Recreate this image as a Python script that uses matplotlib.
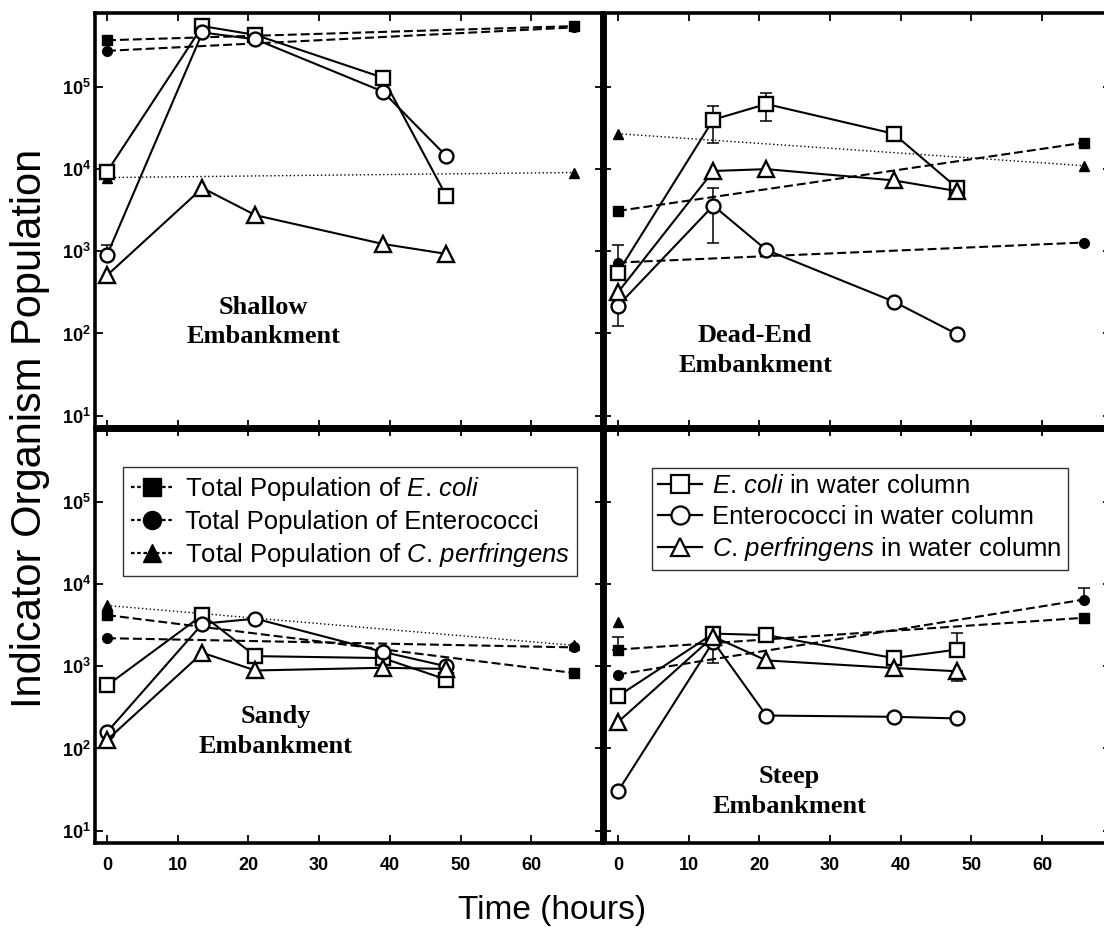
import matplotlib
matplotlib.use("Agg")
import matplotlib.pyplot as plt
from matplotlib import font_manager as fm
from matplotlib.lines import Line2D

# ---------------- data ----------------
t_water = [0, 13.5, 21, 39, 48]
t_total = [0, 66]

# Shallow embankment
sh_ecoli_w = [9.3e3, 5.5e5, 4.3e5, 1.3e5, 4.7e3]
sh_entero_w = [900, 4.6e5, 3.8e5, 8.8e4, 1.44e4]
sh_cperf_w = [510, 5.9e3, 2.75e3, 1.23e3, 930]
sh_ecoli_t = [3.7e5, 5.5e5]
sh_entero_t = [2.75e5, 5.3e5]
sh_cperf_t = [7.9e3, 9.1e3]

# Dead-End embankment
de_ecoli_w = [550, 4.0e4, 6.2e4, 2.7e4, 5.9e3]
de_entero_w = [217, 3.6e3, 1.04e3, 245, 98]
de_cperf_w = [316, 9.5e3, 1.0e4, 7.3e3, 5.4e3]
de_ecoli_t = [3.1e3, 2.1e4]
de_entero_t = [730, 1.28e3]
de_cperf_t = [2.7e4, 1.1e4]

# Sandy embankment
sa_ecoli_w = [585, 4.2e3, 1.33e3, 1.26e3, 690]
sa_entero_w = [158, 3.3e3, 3.8e3, 1.5e3, 1.0e3]
sa_cperf_w = [127, 1.46e3, 890, 960, 930]
sa_ecoli_t = [4.2e3, 830]
sa_entero_t = [2.2e3, 1.7e3]
sa_cperf_t = [5.5e3, 1.8e3]

# Steep embankment
st_ecoli_w = [432, 2.5e3, 2.4e3, 1.26e3, 1.6e3]
st_entero_w = [30, 2.0e3, 252, 243, 232]
st_cperf_w = [209, 2.3e3, 1.18e3, 955, 870]
st_ecoli_t = [1.6e3, 3.9e3]
st_entero_t = [795, 6.5e3]
st_cperf_t = [3.5e3]
st_cperf_t_time = [0]

# error bars: (panel, time, value, lower, upper)
err_bars = [
    ("shallow", 0, 900, 900, 1.2e3),
    ("deadend", 0, 550, 550, 1.2e3),
    ("deadend", 13.5, 4.0e4, 2.07e4, 5.9e4),
    ("deadend", 21, 6.2e4, 3.9e4, 8.4e4),
    ("deadend", 0, 217, 124, 217),
    ("deadend", 13.5, 3.6e3, 1.28e3, 5.9e3),
    ("steep", 48, 1.6e3, 1.6e3, 2.57e3),
    ("steep", 13.5, 2.0e3, 1.1e3, 2.0e3),
    ("steep", 48, 870, 660, 870),
    ("steep", 0, 1.6e3, 1.6e3, 2.3e3),
    ("steep", 66, 6.5e3, 6.5e3, 8.9e3),
]

panel_titles = {
    "shallow": ("Shallow\nEmbankment", 22.1, 10 ** 2.14),
    "deadend": ("Dead-End\nEmbankment", 19.4, 10 ** 1.79),
    "sandy": ("Sandy\nEmbankment", 23.9, 10 ** 2.21),
    "steep": ("Steep\nEmbankment", 24.3, 10 ** 1.48),
}

x_ticks = [0, 10, 20, 30, 40, 50, 60]
y_ticks = [1e1, 1e2, 1e3, 1e4, 1e5]
y_tick_labels = [r"$\mathbf{10^{1}}$", r"$\mathbf{10^{2}}$", r"$\mathbf{10^{3}}$",
                 r"$\mathbf{10^{4}}$", r"$\mathbf{10^{5}}$"]

# ---------------- fonts ----------------
def has_font(name):
    try:
        fm.findfont(fm.FontProperties(family=name), fallback_to_default=False)
        return True
    except Exception:
        return False

narrow = "Liberation Sans Narrow" if has_font("Liberation Sans Narrow") else "Liberation Sans"
plt.rcParams["font.family"] = ["Liberation Sans", "DejaVu Sans"]
plt.rcParams["mathtext.fontset"] = "custom"
plt.rcParams["mathtext.rm"] = "Liberation Sans"
plt.rcParams["mathtext.bf"] = narrow + ":bold"
plt.rcParams["mathtext.it"] = "Liberation Sans:italic"

# ---------------- figure ----------------
W, H = 1104, 931
fig = plt.figure(figsize=(W / 100, H / 100), dpi=100)

def px_axes(x0, y0, x1, y1):
    return fig.add_axes([x0 / W, 1 - y1 / H, (x1 - x0) / W, (y1 - y0) / H])

ax_tl = px_axes(95, 13, 603, 428)
ax_tr = px_axes(603, 13, 1111, 428)
ax_bl = px_axes(95, 428, 603, 843)
ax_br = px_axes(603, 428, 1111, 843)

dash = (0, (4.3, 1.9))
dot = (0, (1, 1.8))


def draw(ax, key, ecoli_w, entero_w, cperf_w, ecoli_t, entero_t, cperf_t, cperf_t_time=t_total):
    ax.set_yscale("log")
    ax.plot(t_total, ecoli_t, linestyle=dash, color="k", lw=1.5, marker="s", ms=7,
            mfc="k", mec="k", zorder=2)
    ax.plot(t_total, entero_t, linestyle=dash, color="k", lw=1.5, marker="o", ms=7,
            mfc="k", mec="k", zorder=2)
    ax.plot(cperf_t_time, cperf_t, linestyle=dot, color="k", lw=1.0, marker="^", ms=7,
            mfc="k", mec="k", zorder=2)
    for tt, val, lo, hi in [(e[1], e[2], e[3], e[4]) for e in err_bars if e[0] == key]:
        ax.errorbar([tt], [val], yerr=[[val - lo], [hi - val]], fmt="none", ecolor="k",
                    elinewidth=1.1, capsize=4.5, capthick=1.1, zorder=1.5)
    ax.plot(t_water, ecoli_w, "-", color="k", lw=1.5, marker="s", ms=10.5, mfc="white",
            mec="k", mew=1.7, zorder=4)
    ax.plot(t_water, entero_w, "-", color="k", lw=1.5, marker="o", ms=10, mfc="white",
            mec="k", mew=1.7, zorder=4)
    ax.plot(t_water, cperf_w, "-", color="k", lw=1.5, marker="^", ms=11, mfc="white",
            mec="k", mew=1.7, zorder=4)
    title, tx, ty = panel_titles[key]
    ax.text(tx, ty, title, ha="center", va="center", family="Liberation Serif",
            weight="bold", fontsize=19, linespacing=1.38)


draw(ax_tl, "shallow", sh_ecoli_w, sh_entero_w, sh_cperf_w, sh_ecoli_t, sh_entero_t, sh_cperf_t)
draw(ax_tr, "deadend", de_ecoli_w, de_entero_w, de_cperf_w, de_ecoli_t, de_entero_t, de_cperf_t)
draw(ax_bl, "sandy", sa_ecoli_w, sa_entero_w, sa_cperf_w, sa_ecoli_t, sa_entero_t, sa_cperf_t)
draw(ax_br, "steep", st_ecoli_w, st_entero_w, st_cperf_w, st_ecoli_t, st_entero_t, st_cperf_t,
     st_cperf_t_time)

for ax, left in [(ax_tl, True), (ax_bl, True), (ax_tr, False), (ax_br, False)]:
    if left:
        ax.set_xlim(-1.7, 70.15)
    else:
        ax.set_xlim(-2.1, 69.75)
    ax.set_ylim(10 ** 0.85, 10 ** 5.9)
    ax.set_xticks(x_ticks)
    ax.set_yticks(y_ticks)
    ax.minorticks_off()
    ax.tick_params(which="both", direction="in", top=True, right=True, length=6, width=1.3)
    for s in ax.spines.values():
        s.set_linewidth(2.6)
    if left:
        ax.set_yticklabels(y_tick_labels, fontsize=13)
        ax.tick_params(axis="y", pad=3)
    else:
        ax.set_yticklabels([])

for ax in (ax_tl, ax_tr):
    ax.set_xticklabels([])
for ax in (ax_bl, ax_br):
    ax.set_xticklabels([str(v) for v in x_ticks], family=narrow, weight="bold", fontsize=13)
    ax.tick_params(axis="x", pad=10)

# dividers
fig.add_artist(Line2D([95 / W, 1.0], [1 - 428 / H, 1 - 428 / H], color="k", lw=5,
                      transform=fig.transFigure, solid_capstyle="butt"))
fig.add_artist(Line2D([603 / W, 603 / W], [1 - 13 / H, 1 - 843 / H], color="k", lw=5,
                      transform=fig.transFigure, solid_capstyle="butt"))

# legends
tot_handles = [
    Line2D([], [], linestyle=(0, (1.6, 1.2)), color="k", lw=1.6, marker="s", ms=13, mfc="k", mec="k"),
    Line2D([], [], linestyle=(0, (1.6, 1.2)), color="k", lw=1.6, marker="o", ms=13, mfc="k", mec="k"),
    Line2D([], [], linestyle=(0, (1.6, 1.2)), color="k", lw=1.6, marker="^", ms=13, mfc="k", mec="k"),
]
tot_labels = [r"Total Population of $\mathit{E}$. $\mathit{coli}$",
              "Total Population of Enterococci",
              r"Total Population of $\mathit{C}$. $\mathit{perfringens}$"]
leg1 = ax_bl.legend(tot_handles, tot_labels, loc="upper left", bbox_to_anchor=(0.055, 0.906),
                    borderaxespad=0, fontsize=18.5, frameon=True, fancybox=False, edgecolor="k",
                    handlelength=1.7, handletextpad=0.4, labelspacing=0.27, borderpad=0.3)
leg1.get_frame().set_linewidth(1.0)

w_handles = [
    Line2D([], [], linestyle="-", color="k", lw=1.6, marker="s", ms=13, mfc="white", mec="k", mew=1.6),
    Line2D([], [], linestyle="-", color="k", lw=1.6, marker="o", ms=13, mfc="white", mec="k", mew=1.6),
    Line2D([], [], linestyle="-", color="k", lw=1.6, marker="^", ms=13, mfc="white", mec="k", mew=1.6),
]
w_labels = [r"$\mathit{E}$. $\mathit{coli}$ in water column",
            "Enterococci in water column",
            r"$\mathit{C}$. $\mathit{perfringens}$ in water column"]
leg2 = ax_br.legend(w_handles, w_labels, loc="upper left", bbox_to_anchor=(0.0965, 0.904),
                    borderaxespad=0, fontsize=18.5, frameon=True, fancybox=False, edgecolor="k",
                    handlelength=1.7, handletextpad=0.4, labelspacing=0.25, borderpad=0.25)
leg2.get_frame().set_linewidth(1.0)

# axis titles
fig.text(30 / W, 1 - 428 / H, "Indicator Organism Population", rotation=90, ha="center",
         va="center", fontsize=30)
fig.text(552 / W, 1 - 910 / H, "Time (hours)", ha="center", va="center", fontsize=24)

fig.savefig("out.png", dpi=100)
